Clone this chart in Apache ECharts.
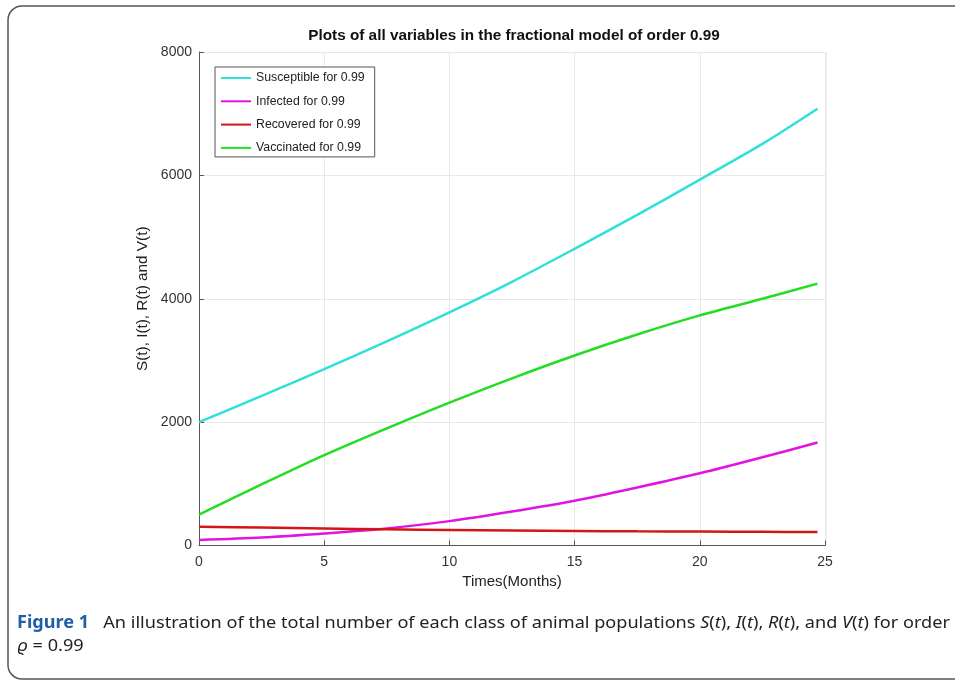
<!DOCTYPE html>
<html>
<head>
<meta charset="utf-8">
<script src="https://cdn.jsdelivr.net/npm/echarts@6/dist/echarts.min.js"></script>
<style>html,body{margin:0;padding:0;background:#fff}#c{width:955px;height:681px}</style>
</head>
<body>
<div id="c"></div>
<script>
const times = [0, 2.5, 5, 7.5, 10, 12.5, 15, 17.5, 20, 22.5, 24.7];
const susceptible = [2000, 2425, 2860, 3310, 3780, 4275, 4810, 5360, 5930, 6510, 7080];
const infected = [90, 130, 195, 275, 395, 550, 725, 940, 1170, 1430, 1670];
const recovered = [305, 290, 275, 263, 252, 243, 236, 230, 225, 221, 218];
const vaccinated = [500, 990, 1465, 1900, 2315, 2710, 3080, 3420, 3730, 4000, 4245];
const seriesNames = ['Susceptible for 0.99', 'Infected for 0.99', 'Recovered for 0.99', 'Vaccinated for 0.99'];
const xTicks = [0, 5, 10, 15, 20, 25];
const yTicks = [0, 2000, 4000, 6000, 8000];

const colors = ['#2fe0da', '#e014e0', '#d41515', '#22dd22'];
const allVals = [susceptible, infected, recovered, vaccinated];
const FF = '"Liberation Sans", Arial, sans-serif';

const chart = echarts.init(document.getElementById('c'), null, {renderer: 'canvas'});
chart.setOption({
  animation: false,
  backgroundColor: '#fff',
  title: {
    text: 'Plots of all variables in the fractional model of order 0.99',
    left: 509, top: 23, textAlign: 'center',
    textStyle: {fontFamily: FF, fontSize: 15.3, fontWeight: 'bold', color: '#111'}
  },
  legend: {
    orient: 'vertical', left: 215, top: 67,
    itemWidth: 30, itemHeight: 14, itemGap: 11.3,
    padding: [5, 10, 3, 5],
    borderColor: '#555', borderWidth: 1, backgroundColor: '#fff',
    itemStyle: {opacity: 0},
    textStyle: {fontFamily: FF, fontSize: 12.3, color: '#222'},
    data: seriesNames
  },
  grid: {left: 199, right: 130, top: 52, bottom: 135.5, containLabel: false},
  xAxis: {
    type: 'value', min: xTicks[0], max: xTicks[xTicks.length - 1], interval: 5,
    name: 'Times(Months)', nameLocation: 'middle', nameGap: 29,
    nameTextStyle: {fontFamily: FF, fontSize: 15, color: '#222'},
    axisLine: {show: true, lineStyle: {color: '#555', width: 1}},
    axisTick: {show: true, inside: true, length: 5, lineStyle: {color: '#555'}},
    axisLabel: {fontFamily: FF, fontSize: 14, color: '#333', margin: 10},
    splitLine: {show: true, lineStyle: {color: '#e8e8e8', width: 1}}
  },
  yAxis: {
    type: 'value', min: yTicks[0], max: yTicks[yTicks.length - 1], interval: 2000,
    name: 'S(t), I(t), R(t) and V(t)', nameLocation: 'middle', nameGap: 39,
    nameTextStyle: {fontFamily: FF, fontSize: 15.3, color: '#222'},
    axisLine: {show: true, lineStyle: {color: '#555', width: 1}},
    axisTick: {show: true, inside: true, length: 5, lineStyle: {color: '#555'}},
    axisLabel: {fontFamily: FF, fontSize: 14, color: '#333', margin: 7, formatter: v => String(v)},
    splitLine: {show: true, lineStyle: {color: '#e8e8e8', width: 1}}
  },
  series: seriesNames.map((n, i) => ({
    name: n, type: 'line', smooth: 0.3, symbol: 'none',
    color: colors[i],
    lineStyle: {width: 2.5, color: colors[i]},
    data: times.map((t, j) => [t, allVals[i][j]])
  })),
  graphic: [
    {type: 'rect', shape: {x: 8, y: 6, width: 970, height: 673, r: 14},
     style: {fill: null, stroke: '#555', lineWidth: 1.5}, silent: true},
    {type: 'line', shape: {x1: 826, y1: 52, x2: 826, y2: 545.5}, style: {stroke: '#e8e8e8', lineWidth: 1}, silent: true, z: -1},
    {type: 'text', x: 17, y: 615, scaleX: 1.065,
     style: {
       text: '{b|Figure 1}   An illustration of the total number of each class of animal populations {i|S}({i|t}), {i|I}({i|t}), {i|R}({i|t}), and {i|V}({i|t}) for order',
       font: '17px "Noto Sans", sans-serif', fill: '#222',
       rich: {
         b: {fontWeight: 'bold', fill: '#1f5fa8', fontFamily: '"Noto Sans", sans-serif', fontSize: 17},
         i: {fontStyle: 'italic', fontFamily: '"Noto Sans", sans-serif', fontSize: 17, fill: '#222'}
       }
     }},
    {type: 'text', x: 17, y: 638, scaleX: 1.065,
     style: {
       text: '{i|\u03f1} = 0.99',
       font: '17px "Noto Sans", sans-serif', fill: '#222',
       rich: {i: {fontStyle: 'italic', fontFamily: '"Noto Sans", sans-serif', fontSize: 17, fill: '#222'}}
     }}
  ]
});
</script>
</body>
</html>
